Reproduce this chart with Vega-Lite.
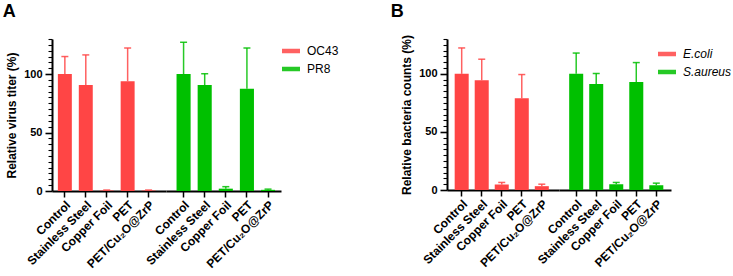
{
  "$schema": "https://vega.github.io/schema/vega-lite/v6.json",
  "padding": {"left": 2, "top": 3, "right": 0, "bottom": 0},
  "datasets": {
    "virus": [
      {"group": "OC43", "sample": "Control", "mean": 100, "upper": 115},
      {"group": "OC43", "sample": "Stainless Steel", "mean": 90.6, "upper": 116.4},
      {"group": "OC43", "sample": "Copper Foil", "mean": 0.4, "upper": 0.8},
      {"group": "OC43", "sample": "PET", "mean": 93.8, "upper": 122.3},
      {"group": "OC43", "sample": "PET/Cu₂O@ZrP", "mean": 0.4, "upper": 0.8},
      {"group": "PR8", "sample": "Control", "mean": 100, "upper": 127.2},
      {"group": "PR8", "sample": "Stainless Steel", "mean": 90.6, "upper": 100.3},
      {"group": "PR8", "sample": "Copper Foil", "mean": 2.0, "upper": 3.7},
      {"group": "PR8", "sample": "PET", "mean": 87.5, "upper": 122.3},
      {"group": "PR8", "sample": "PET/Cu₂O@ZrP", "mean": 1.0, "upper": 1.6}
    ],
    "bacteria": [
      {"group": "E.coli", "sample": "Control", "mean": 100, "upper": 122.3},
      {"group": "E.coli", "sample": "Stainless Steel", "mean": 94.5, "upper": 112.6},
      {"group": "E.coli", "sample": "Copper Foil", "mean": 4.7, "upper": 6.5},
      {"group": "E.coli", "sample": "PET", "mean": 78.9, "upper": 99.4},
      {"group": "E.coli", "sample": "PET/Cu₂O@ZrP", "mean": 3.3, "upper": 5.0},
      {"group": "S.aureus", "sample": "Control", "mean": 100, "upper": 117.9},
      {"group": "S.aureus", "sample": "Stainless Steel", "mean": 91.2, "upper": 100.3},
      {"group": "S.aureus", "sample": "Copper Foil", "mean": 5.0, "upper": 6.5},
      {"group": "S.aureus", "sample": "PET", "mean": 93.0, "upper": 109.7},
      {"group": "S.aureus", "sample": "PET/Cu₂O@ZrP", "mean": 4.1, "upper": 5.9}
    ]
  },
  "resolve": {"scale": {"color": "independent"}, "legend": {"color": "independent"}},
  "spacing": 48,
  "hconcat": [
    {
      "title": {"text": "A", "fontSize": 18, "fontWeight": "bold", "anchor": "start", "frame": "bounds", "offset": 12, "dx": -3},
      "spacing": 0,
      "bounds": "flush",
      "hconcat": [
        {
          "width": 114, "height": 152,
          "data": {"name": "virus"},
          "transform": [{"filter": "datum.group === 'OC43'"}],
          "encoding": {
            "x": {"field": "sample", "type": "nominal", "sort": null,
                  "scale": {"paddingInner": 0.333, "paddingOuter": 0.39, "align": 0.36}}
          },
          "layer": [
            {"mark": {"type": "bar"},
             "encoding": {
               "y": {"field": "mean", "type": "quantitative", "scale": {"domain": [0, 130], "nice": false},
                     "axis": {"title": "Relative virus titer (%)", "values": [0,5,10,15,20,25,30,35,40,45,50,55,60,65,70,75,80,85,90,95,100,105,110,115,120,125,130],
                              "labelOverlap": false, "labelBound": false,
                              "labelExpr": "datum.value % 50 === 0 ? datum.label : ''",
                              "tickSize": {"condition": {"test": "datum.value % 50 === 0", "value": 7}, "value": 4},
                              "tickWidth": {"condition": {"test": "datum.value % 50 === 0", "value": 1.6}, "value": 1.1}}},
               "color": {"field": "group", "type": "nominal", "scale": {"domain": ["OC43", "PR8"], "range": ["#ff4545", "#00c000"]},
                         "legend": {"offset": -2}}
             }},
            {"mark": {"type": "rule", "strokeWidth": 1.5, "opacity": 0.85},
             "encoding": {"y": {"field": "mean", "type": "quantitative",
                                "axis": {"title": "Relative virus titer (%)", "values": [0,5,10,15,20,25,30,35,40,45,50,55,60,65,70,75,80,85,90,95,100,105,110,115,120,125,130],
                                         "labelOverlap": false, "labelBound": false,
                                         "labelExpr": "datum.value % 50 === 0 ? datum.label : ''",
                                         "tickSize": {"condition": {"test": "datum.value % 50 === 0", "value": 7}, "value": 4},
                                         "tickWidth": {"condition": {"test": "datum.value % 50 === 0", "value": 1.6}, "value": 1.1}}},
                          "y2": {"field": "upper"},
                          "color": {"field": "group", "type": "nominal"}}},
            {"mark": {"type": "tick", "size": 7, "thickness": 1.5, "opacity": 0.85},
             "encoding": {"y": {"field": "upper", "type": "quantitative",
                                "axis": {"title": "Relative virus titer (%)", "values": [0,5,10,15,20,25,30,35,40,45,50,55,60,65,70,75,80,85,90,95,100,105,110,115,120,125,130],
                                         "labelOverlap": false, "labelBound": false,
                                         "labelExpr": "datum.value % 50 === 0 ? datum.label : ''",
                                         "tickSize": {"condition": {"test": "datum.value % 50 === 0", "value": 7}, "value": 4},
                                         "tickWidth": {"condition": {"test": "datum.value % 50 === 0", "value": 1.6}, "value": 1.1}}},
                          "color": {"field": "group", "type": "nominal"}}}
          ]
        },
        {
          "width": 115, "height": 152,
          "data": {"name": "virus"},
          "transform": [{"filter": "datum.group === 'PR8'"}],
          "encoding": {
            "x": {"field": "sample", "type": "nominal", "sort": null,
                  "scale": {"paddingInner": 0.333, "paddingOuter": 0.39, "align": 0.64}}
          },
          "layer": [
            {"mark": {"type": "bar"},
             "encoding": {
               "y": {"field": "mean", "type": "quantitative", "scale": {"domain": [0, 130], "nice": false}, "axis": null},
               "color": {"field": "group", "type": "nominal", "scale": {"domain": ["OC43", "PR8"], "range": ["#ff4545", "#00c000"]},
                         "legend": {"offset": -2}}
             }},
            {"mark": {"type": "rule", "strokeWidth": 1.5, "opacity": 0.85},
             "encoding": {"y": {"field": "mean", "type": "quantitative", "axis": null}, "y2": {"field": "upper"},
                          "color": {"field": "group", "type": "nominal"}}},
            {"mark": {"type": "tick", "size": 7, "thickness": 1.5, "opacity": 0.85},
             "encoding": {"y": {"field": "upper", "type": "quantitative", "axis": null},
                          "color": {"field": "group", "type": "nominal"}}}
          ]
        }
      ]
    },
    {
      "title": {"text": "B", "fontSize": 18, "fontWeight": "bold", "anchor": "start", "frame": "bounds", "offset": 12, "dx": -10},
      "spacing": 0,
      "bounds": "flush",
      "hconcat": [
        {
          "width": 112, "height": 151,
          "data": {"name": "bacteria"},
          "transform": [{"filter": "datum.group === 'E.coli'"}],
          "encoding": {
            "x": {"field": "sample", "type": "nominal", "sort": null,
                  "scale": {"paddingInner": 0.3, "paddingOuter": 0.446, "align": 0.43}}
          },
          "layer": [
            {"mark": {"type": "bar"},
             "encoding": {
               "y": {"field": "mean", "type": "quantitative", "scale": {"domain": [0, 130], "nice": false},
                     "axis": {"title": "Relative bacteria counts (%)", "values": [0,5,10,15,20,25,30,35,40,45,50,55,60,65,70,75,80,85,90,95,100,105,110,115,120,125,130],
                              "labelOverlap": false, "labelBound": false,
                              "labelExpr": "datum.value % 50 === 0 ? datum.label : ''",
                              "tickSize": {"condition": {"test": "datum.value % 50 === 0", "value": 7}, "value": 4},
                              "tickWidth": {"condition": {"test": "datum.value % 50 === 0", "value": 1.6}, "value": 1.1}}},
               "color": {"field": "group", "type": "nominal", "scale": {"domain": ["E.coli", "S.aureus"], "range": ["#ff4545", "#00c000"]},
                         "legend": {"labelFontStyle": "italic", "orient": "none", "legendX": 208, "legendY": 3, "labelOffset": 7}}
             }},
            {"mark": {"type": "rule", "strokeWidth": 1.5, "opacity": 0.85},
             "encoding": {"y": {"field": "mean", "type": "quantitative",
                                "axis": {"title": "Relative bacteria counts (%)", "values": [0,5,10,15,20,25,30,35,40,45,50,55,60,65,70,75,80,85,90,95,100,105,110,115,120,125,130],
                                         "labelOverlap": false, "labelBound": false,
                                         "labelExpr": "datum.value % 50 === 0 ? datum.label : ''",
                                         "tickSize": {"condition": {"test": "datum.value % 50 === 0", "value": 7}, "value": 4},
                                         "tickWidth": {"condition": {"test": "datum.value % 50 === 0", "value": 1.6}, "value": 1.1}}},
                          "y2": {"field": "upper"},
                          "color": {"field": "group", "type": "nominal"}}},
            {"mark": {"type": "tick", "size": 7, "thickness": 1.5, "opacity": 0.85},
             "encoding": {"y": {"field": "upper", "type": "quantitative",
                                "axis": {"title": "Relative bacteria counts (%)", "values": [0,5,10,15,20,25,30,35,40,45,50,55,60,65,70,75,80,85,90,95,100,105,110,115,120,125,130],
                                         "labelOverlap": false, "labelBound": false,
                                         "labelExpr": "datum.value % 50 === 0 ? datum.label : ''",
                                         "tickSize": {"condition": {"test": "datum.value % 50 === 0", "value": 7}, "value": 4},
                                         "tickWidth": {"condition": {"test": "datum.value % 50 === 0", "value": 1.6}, "value": 1.1}}},
                          "color": {"field": "group", "type": "nominal"}}}
          ]
        },
        {
          "width": 112, "height": 151,
          "data": {"name": "bacteria"},
          "transform": [{"filter": "datum.group === 'S.aureus'"}],
          "encoding": {
            "x": {"field": "sample", "type": "nominal", "sort": null,
                  "scale": {"paddingInner": 0.3, "paddingOuter": 0.446, "align": 0.57}}
          },
          "layer": [
            {"mark": {"type": "bar"},
             "encoding": {
               "y": {"field": "mean", "type": "quantitative", "scale": {"domain": [0, 130], "nice": false}, "axis": null},
               "color": {"field": "group", "type": "nominal", "scale": {"domain": ["E.coli", "S.aureus"], "range": ["#ff4545", "#00c000"]},
                         "legend": {"labelFontStyle": "italic", "orient": "none", "legendX": 208, "legendY": 3, "labelOffset": 7}}
             }},
            {"mark": {"type": "rule", "strokeWidth": 1.5, "opacity": 0.85},
             "encoding": {"y": {"field": "mean", "type": "quantitative", "axis": null}, "y2": {"field": "upper"},
                          "color": {"field": "group", "type": "nominal"}}},
            {"mark": {"type": "tick", "size": 7, "thickness": 1.5, "opacity": 0.85},
             "encoding": {"y": {"field": "upper", "type": "quantitative", "axis": null},
                          "color": {"field": "group", "type": "nominal"}}}
          ]
        }
      ]
    }
  ],
  "config": {
    "font": "Liberation Sans",
    "view": {"stroke": null},
    "title": {"color": "black"},
    "axis": {
      "domainColor": "black", "domainWidth": 2, "tickColor": "black", "tickWidth": 1.5,
      "labelColor": "black", "titleColor": "black", "grid": false,
      "labelFont": "Liberation Sans", "titleFont": "Liberation Sans"
    },
    "axisX": {"title": null, "labelAngle": -45, "labelFontSize": 12, "labelFontWeight": "bold", "tickSize": 6, "labelPadding": 2},
    "axisY": {"labelFontSize": 11, "labelFontWeight": "bold", "labelPadding": 3, "titleFontSize": 12, "titleFontWeight": "bold", "titlePadding": 5, "labelOverlap": false},
    "legend": {
      "title": null, "orient": "right", "offset": 1, "padding": 3, "rowPadding": 3,
      "symbolType": "M-1,-0.25H1V0.25H-1Z", "symbolSize": 324, "symbolStrokeWidth": 0,
      "labelFontSize": 12, "labelFont": "Liberation Sans", "labelColor": "black", "labelOffset": 7
    }
  }
}
